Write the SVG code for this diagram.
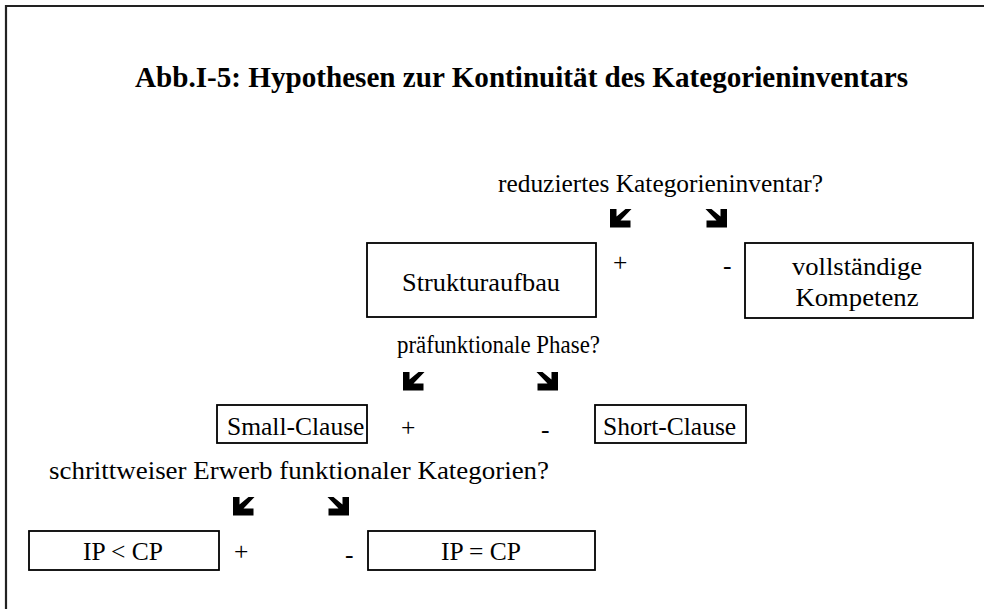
<svg xmlns="http://www.w3.org/2000/svg" xmlns:xlink="http://www.w3.org/1999/xlink" width="984" height="609" viewBox="0 0 984 609">
  <style>
    .frame { fill: none; stroke: #222; stroke-width: 2.2; }
    .box { fill: #fff; stroke: #000; stroke-width: 1.8; }
    .t { font-family: "Liberation Serif", "Times New Roman", serif; font-size: 25.5px; fill: #000; }
    .title { font-family: "Liberation Serif", "Times New Roman", serif; font-size: 29px; font-weight: bold; fill: #000; }
    .mid { text-anchor: middle; }
    .arrow { fill: #000; }
  </style>
  <defs>
    <!-- thick down-left arrow; the down-right one is its mirror -->
    <path id="arrowDL" d="M0,0 H6.5 V7.5 L15.5,0 H21.5 L10.5,11.5 H20.5 V18.5 H0 Z"/>
  </defs>

  <!-- page frame -->
  <path class="frame" d="M6,609 V6 H984"/>

  <text class="title" x="135" y="87" textLength="773" lengthAdjust="spacingAndGlyphs">Abb.I-5: Hypothesen zur Kontinuität des Kategorieninventars</text>

  <!-- questions and branch signs -->
  <g id="q1">
    <text class="t" x="498" y="192" textLength="325" lengthAdjust="spacingAndGlyphs">reduziertes Kategorieninventar?</text>
    <text class="t" x="613" y="271">+</text>
    <text class="t" x="723" y="274">-</text>
  </g>
  <g id="q2">
    <text class="t" x="397" y="353" textLength="203" lengthAdjust="spacingAndGlyphs">präfunktionale Phase?</text>
    <text class="t" x="401" y="436">+</text>
    <text class="t" x="541" y="438">-</text>
  </g>
  <g id="q3">
    <text class="t" x="49" y="479" textLength="500" lengthAdjust="spacingAndGlyphs">schrittweiser Erwerb funktionaler Kategorien?</text>
    <text class="t" x="234" y="560">+</text>
    <text class="t" x="345" y="563">-</text>
  </g>

  <!-- branch arrows -->
  <g id="connectors" class="arrow">
    <use xlink:href="#arrowDL" transform="translate(610,209)"/>
    <use xlink:href="#arrowDL" transform="translate(727,209) scale(-1,1)"/>
    <use xlink:href="#arrowDL" transform="translate(403,372)"/>
    <use xlink:href="#arrowDL" transform="translate(558,372) scale(-1,1)"/>
    <use xlink:href="#arrowDL" transform="translate(233,497)"/>
    <use xlink:href="#arrowDL" transform="translate(349,497) scale(-1,1)"/>
  </g>

  <g id="strukturaufbau">
    <rect class="box" x="367" y="243" width="229" height="74"/>
    <text class="t mid" x="481" y="291" textLength="158" lengthAdjust="spacingAndGlyphs">Strukturaufbau</text>
  </g>
  <g id="kompetenz">
    <rect class="box" x="745" y="243" width="228" height="75"/>
    <text class="t mid" x="857" y="275" textLength="130" lengthAdjust="spacingAndGlyphs">vollständige</text>
    <text class="t mid" x="857" y="306" textLength="123" lengthAdjust="spacingAndGlyphs">Kompetenz</text>
  </g>
  <g id="small-clause">
    <rect class="box" x="217" y="405" width="150" height="38"/>
    <text class="t" x="227" y="435">Small-Clause</text>
  </g>
  <g id="short-clause">
    <rect class="box" x="595" y="405" width="151" height="38"/>
    <text class="t" x="603" y="435">Short-Clause</text>
  </g>
  <g id="ip-lt-cp">
    <rect class="box" x="29" y="531" width="190" height="39"/>
    <text class="t" x="83" y="560">IP &lt; CP</text>
  </g>
  <g id="ip-eq-cp">
    <rect class="box" x="368" y="531" width="227" height="39"/>
    <text class="t mid" x="481" y="560">IP = CP</text>
  </g>
</svg>
